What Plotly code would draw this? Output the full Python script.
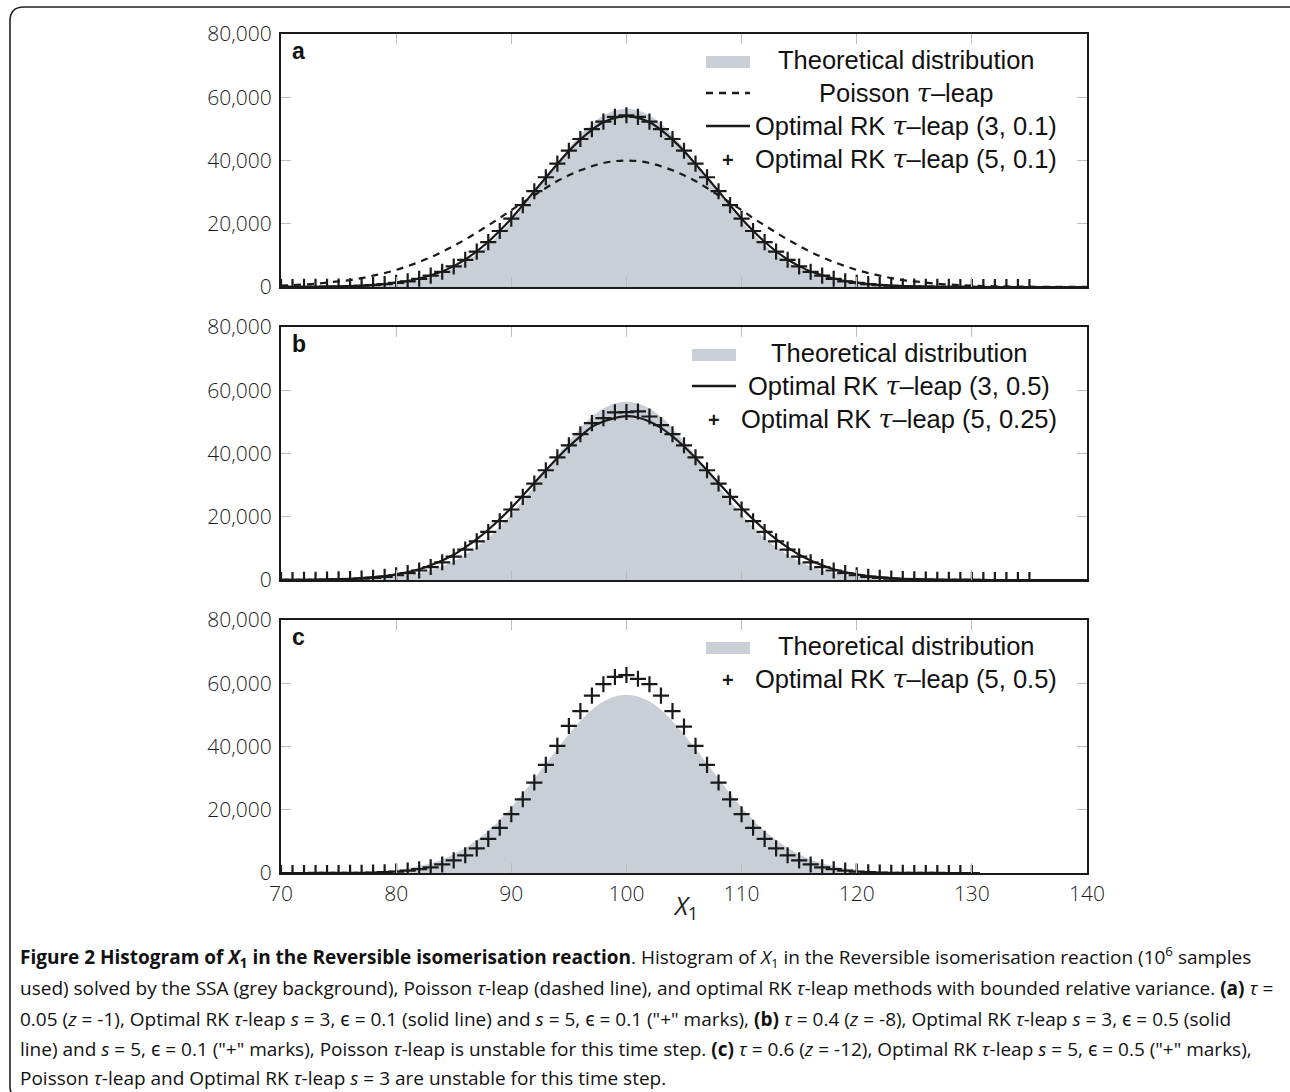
import plotly.graph_objects as go

W, H = 1290, 1092

# ---------------- data ----------------
x_all = list(range(70, 141))

theory = [10, 10, 20, 40, 70, 110, 180, 280, 440, 680,
          1000, 1500, 2200, 3100, 4300, 5900, 7900, 10400, 13300, 16800,
          20800, 25100, 29800, 34600, 39300, 43900, 48100, 51600, 54200, 55800,
          56400,
          55800, 54200, 51600, 48100, 43900, 39300, 34600, 29800, 25100, 20800,
          16800, 13300, 10400, 7900, 5900, 4300, 3100, 2200, 1500, 1000,
          680, 440, 280, 180, 110, 70, 40, 20, 10, 10,
          0, 0, 0, 0, 0, 0, 0, 0, 0, 0]

poisson_a = [440, 600, 800, 1000, 1400, 1800, 2200, 2800, 3600, 4400,
             5400, 6600, 7900, 9400, 11100, 13000, 15000, 17200, 19500, 21800,
             24300, 26700, 29000, 31300, 33500, 35300, 36900, 38200, 39200, 39800,
             40000,
             39800, 39200, 38200, 36900, 35300, 33500, 31300, 29000, 26700, 24300,
             21800, 19500, 17200, 15000, 13000, 11100, 9400, 7900, 6600, 5400,
             4400, 3600, 2800, 2200, 1800, 1400, 1000, 800, 600, 440,
             300, 240, 170, 120, 90, 60, 40, 30, 20, 10]

rk3_a = [10, 20, 40, 70, 110, 180, 280, 430, 650, 950,
         1400, 1900, 2700, 3700, 4900, 6600, 8700, 11300, 14300, 17800,
         21600, 25900, 30300, 34600, 38900, 43000, 46600, 49700, 52100, 53500,
         54000,
         53500, 52100, 49700, 46600, 43000, 38900, 34600, 30300, 25900, 21600,
         17800, 14300, 11300, 8700, 6600, 4900, 3700, 2700, 1900, 1400,
         950, 650, 430, 280, 180, 110, 70, 40, 20, 10,
         0, 0, 0, 0, 0, 0, 0, 0, 0, 0]

x_plus_a = list(range(70, 136))
rk5_a = [10, 20, 40, 60, 100, 160, 260, 400, 600, 900,
         1300, 1800, 2600, 3600, 4800, 6500, 8600, 11200, 14200, 17700,
         21600, 25900, 30300, 34700, 39000, 43100, 46800, 49900, 52300, 53800,
         54300,
         53800, 52300, 49900, 46800, 43100, 39000, 34700, 30300, 25900, 21600,
         17700, 14200, 11200, 8600, 6500, 4800, 3600, 2600, 1800, 1300,
         900, 600, 400, 260, 160, 100, 60, 40, 20, 10,
         0, 0, 0, 0, 0]

rk3_b = [20, 40, 70, 100, 170, 260, 400, 600, 880, 1200,
         1800, 2500, 3400, 4700, 6200, 8000, 10300, 12900, 15900, 19200,
         22800, 26700, 30700, 34700, 38600, 42200, 45400, 48400, 50100, 51200,
         51800,
         51400, 50100, 48100, 45400, 42200, 38600, 34700, 30700, 26700, 22800,
         19200, 15900, 12900, 10300, 8000, 6200, 4700, 3400, 2500, 1800,
         1200, 880, 600, 400, 260, 170, 100, 70, 40, 20,
         10, 0, 0, 0, 0, 0, 0, 0, 0, 0]

x_plus_b = list(range(70, 136))
rk5_b = [10, 20, 40, 70, 110, 190, 300, 460, 700, 1000,
         1500, 2200, 3000, 4100, 5600, 7400, 9600, 12200, 15200, 18600,
         22300, 26300, 30500, 34700, 38800, 42600, 46100, 49600, 51200, 53000,
         53100,
         53300, 51700, 49000, 46100, 42600, 38800, 34700, 30500, 26300, 22300,
         18600, 15200, 12200, 9600, 7400, 5600, 4100, 3000, 2200, 1500,
         1000, 700, 460, 300, 190, 110, 70, 40, 20, 10,
         0, 0, 0, 0, 0]

x_plus_c = list(range(70, 131))
rk5_c = [0, 0, 0, 10, 10, 20, 40, 70, 140, 250,
         450, 750, 1200, 1800, 2700, 4000, 5600, 7800, 10800, 14300,
         18600, 23300, 28600, 34200, 40200, 46500, 51200, 56100, 59700, 62000,
         62600,
         61400, 59700, 56100, 51200, 46300, 40200, 34200, 28600, 23300, 18600,
         14300, 10800, 7800, 5600, 4000, 2700, 1800, 1200, 750, 450,
         250, 140, 70, 40, 20, 10, 10, 0, 0, 0]

y_ticks = [0, 20000, 40000, 60000, 80000]
x_ticks = [70, 80, 90, 100, 110, 120, 130, 140]

# ---------------- geometry helpers ----------------
def px(v):
    return v / W

def py(v):
    return 1 - v / H

PLOT_L, PLOT_R = 281, 1087
panels = [(34, 287), (327, 580), (620, 873)]

FILL = "#c9ced7"
INK = "#1a1a1a"
TICKFONT = dict(family="Open Sans, DejaVu Sans", size=21, color="#1c1c1c", weight=300)
LEGFONT = dict(family="Liberation Sans, Arial", size=25.5, color="#111111")
TAU = '<span style="font-family:DejaVu Serif"><i>τ</i></span>'

fig = go.Figure()

def add_theory(k):
    fig.add_trace(go.Scatter(x=x_all, y=theory, mode="lines", fill="tozeroy",
                             fillcolor=FILL, line=dict(width=0, color=FILL, shape="spline"),
                             xaxis=f"x{k}", yaxis=f"y{k}", showlegend=False, hoverinfo="skip"))

def add_line(k, xs, ys, dash="solid"):
    fig.add_trace(go.Scatter(x=xs, y=ys, mode="lines",
                             line=dict(width=2.2, color=INK, dash=dash, shape="spline"),
                             xaxis=f"x{k}", yaxis=f"y{k}", showlegend=False))

def add_plus(k, xs, ys):
    fig.add_trace(go.Scatter(x=xs, y=ys, mode="markers",
                             marker=dict(symbol="cross-thin", size=11.5, line=dict(width=2.2, color=INK)),
                             xaxis=f"x{k}", yaxis=f"y{k}", showlegend=False))

# panel a
add_theory(1)
add_line(1, x_all, poisson_a, dash="7px,6px")
add_line(1, x_all, rk3_a)
add_plus(1, x_plus_a, rk5_a)
# panel b
add_theory(2)
add_line(2, x_all, rk3_b)
add_plus(2, x_plus_b, rk5_b)
# panel c
add_theory(3)
add_plus(3, x_plus_c, rk5_c)

layout = dict(autosize=True, margin=dict(l=0, r=0, t=0, b=0, pad=0),
              paper_bgcolor="white", plot_bgcolor="white", showlegend=False)

for i, (top, bot) in enumerate(panels, start=1):
    xa = dict(domain=[px(PLOT_L), px(PLOT_R)], range=[70, 140], anchor=f"y{i}",
              showline=True, linecolor=INK, linewidth=2, mirror="allticks",
              ticks="inside", ticklen=10, tickwidth=1.2, tickcolor="#bbbbbb",
              tickvals=x_ticks, showgrid=False, zeroline=False, automargin=False,
              showticklabels=(i == 3), tickfont=TICKFONT, ticklabelstandoff=1)
    ya = dict(domain=[py(bot), py(top)], range=[0, 80000], anchor=f"x{i}",
              showline=True, linecolor=INK, linewidth=2, mirror="allticks",
              ticks="inside", ticklen=10, tickwidth=1.2, tickcolor="#bbbbbb",
              tickvals=y_ticks, tickformat=",d", showgrid=False, zeroline=False,
              automargin=False, tickfont=TICKFONT, ticklabelstandoff=3)
    layout["xaxis" if i == 1 else f"xaxis{i}"] = xa
    layout["yaxis" if i == 1 else f"yaxis{i}"] = ya

fig.update_layout(**layout)

ann = []
shapes = []

def text(x, y, t, font, xanchor="center", yanchor="middle"):
    ann.append(dict(x=px(x), y=py(y), xref="paper", yref="paper", text=t, showarrow=False,
                    xanchor=xanchor, yanchor=yanchor, font=font))

# panel letters
for (top, bot), letter in zip(panels, ["a", "b", "c"]):
    text(290, top + 17, f"<b>{letter}</b>", dict(family="Liberation Sans, Arial", size=23, color="#111"),
         xanchor="left")

# legend helpers
def leg_rect(x0, yc):
    shapes.append(dict(type="rect", xref="paper", yref="paper", x0=px(x0), x1=px(x0 + 44),
                       y0=py(yc + 6), y1=py(yc - 6), fillcolor=FILL, line=dict(width=0)))

def leg_line(x0, yc, dash="solid"):
    shapes.append(dict(type="line", xref="paper", yref="paper", x0=px(x0), x1=px(x0 + 44),
                       y0=py(yc), y1=py(yc), line=dict(color=INK, width=2.4, dash=dash)))

def leg_plus(xc, yc):
    text(xc, yc, "<b>+</b>", dict(family="Liberation Sans, Arial", size=20, color=INK))

# panel a legend
leg_rect(706, 62)
text(906, 60, "Theoretical distribution", LEGFONT)
leg_line(706, 93, dash="7px,6px")
text(906, 93, f"Poisson {TAU}–leap", LEGFONT)
leg_line(706, 126)
text(906, 126, f"Optimal RK {TAU}–leap (3, 0.1)", LEGFONT)
leg_plus(728, 160)
text(906, 159, f"Optimal RK {TAU}–leap (5, 0.1)", LEGFONT)

# panel b legend
leg_rect(692, 355)
text(899, 353, "Theoretical distribution", LEGFONT)
leg_line(692, 386)
text(899, 386, f"Optimal RK {TAU}–leap (3, 0.5)", LEGFONT)
leg_plus(714, 420)
text(899, 419, f"Optimal RK {TAU}–leap (5, 0.25)", LEGFONT)

# panel c legend
leg_rect(706, 648)
text(906, 646, "Theoretical distribution", LEGFONT)
leg_plus(728, 680)
text(906, 679, f"Optimal RK {TAU}–leap (5, 0.5)", LEGFONT)

# x-axis title
text(685, 906, "<i>X</i><sub>1</sub>", dict(family="Open Sans, DejaVu Sans", size=25, color="#222"))

# caption
CAP = dict(family="Open Sans, Noto Sans", size=19, color="#111")
T = "<i>τ</i>"
cap_lines = [
    "<b>Figure 2 Histogram of <i>X</i><sub>1</sub> in the Reversible isomerisation reaction</b>. Histogram of <i>X</i><sub>1</sub> in the Reversible isomerisation reaction (10<sup>6</sup> samples",
    f"used) solved by the SSA (grey background), Poisson {T}-leap (dashed line), and optimal RK {T}-leap methods with bounded relative variance. <b>(a)</b> {T} =",
    f"0.05 (<i>z</i> = -1), Optimal RK {T}-leap <i>s</i> = 3, ϵ = 0.1 (solid line) and <i>s</i> = 5, ϵ = 0.1 (\"+\" marks), <b>(b)</b> {T} = 0.4 (<i>z</i> = -8), Optimal RK {T}-leap <i>s</i> = 3, ϵ = 0.5 (solid",
    f"line) and <i>s</i> = 5, ϵ = 0.1 (\"+\" marks), Poisson {T}-leap is unstable for this time step. <b>(c)</b> {T} = 0.6 (<i>z</i> = -12), Optimal RK {T}-leap <i>s</i> = 5, ϵ = 0.5 (\"+\" marks),",
    f"Poisson {T}-leap and Optimal RK {T}-leap <i>s</i> = 3 are unstable for this time step.",
]
cap_y = [957, 988, 1019, 1049, 1078]
for line, yy in zip(cap_lines, cap_y):
    text(18, yy, line, CAP, xanchor="left")

# outer rounded frame (bottom edge lies just below the visible page)
R = 14
path = (f"M {px(1300)},{py(7)} L {px(10 + R)},{py(7)} Q {px(10)},{py(7)} {px(10)},{py(7 + R)} "
        f"L {px(10)},{py(1100 - R)} Q {px(10)},{py(1100)} {px(10 + R)},{py(1100)} L {px(1300)},{py(1100)}")
shapes.append(dict(type="path", xref="paper", yref="paper", path=path,
                   line=dict(color="#222", width=1.6)))

fig.update_layout(annotations=ann, shapes=shapes)

post = ("document.documentElement.style.margin='0';document.body.style.margin='0';"
        "document.body.style.overflow='hidden';"
        "var gd=document.getElementById('{plot_id}');gd.style.width='100vw';gd.style.height='100vh';"
        "Plotly.Plots.resize(gd);")
fig.write_html("out.html", default_width="100vw", default_height="100vh",
               config={"displayModeBar": False, "responsive": True}, post_script=post)
